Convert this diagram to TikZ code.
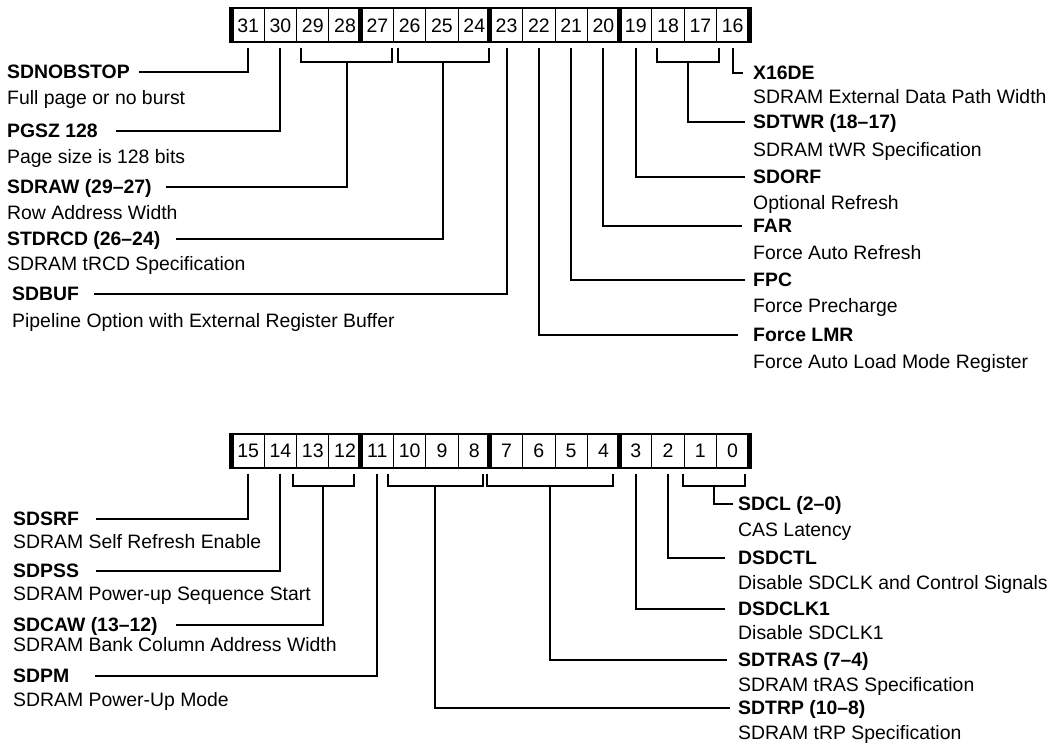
\documentclass[tikz,border=0pt]{standalone}
\usepackage{fontspec}
\setmainfont{Liberation Sans}
\usetikzlibrary{calc}

\begin{document}
\begin{tikzpicture}[x=1pt, y=-1pt]
    % --- STYLES ---
    \tikzset{
        cell/.style={draw, line width=1pt, minimum width=32.3pt, minimum height=33pt, inner sep=0pt, font={\fontsize{19.5}{21}\selectfont}},
        frame_line/.style={line width=2pt},
        nibble_bar/.style={line width=5pt},
        lead/.style={line width=2pt},
        field/.style={anchor=west, inner sep=0pt, text height=13.9pt, text depth=0pt, font={\fontsize{19.4}{23}\selectfont\bfseries}},
        descr/.style={anchor=west, inner sep=0pt, text height=13.9pt, text depth=0pt, font={\fontsize{19.4}{23}\selectfont}}
    }
    \useasboundingbox (0,0) rectangle (1059,743);

    % left edge of the registers
    \def\xo{232}
    % cell pitch
    \def\pw{32.3}

    % ===================================================
    % 1. UPPER REGISTER (bits 31-16)
    % ===================================================
    \foreach \b [count=\i from 0] in {31,30,...,16} {
        \node[cell] (r\b) at ({\xo+(\i+0.5)*\pw}, 25.5) {\b};
    }
    \draw[frame_line] (r31.north west) -- (r16.north east);
    \draw[frame_line] (r31.south west) -- (r16.south east);
    \foreach \b in {31,27,23,19} {
        \draw[nibble_bar] ([yshift=1pt]r\b.north west) -- ([yshift=-1pt]r\b.south west);
    }
    \draw[nibble_bar] ([yshift=1pt]r16.north east) -- ([yshift=-1pt]r16.south east);

    % fields on the left
    \node[field] (nobstop) at (7,72) {SDNOBSTOP};
    \node[descr] (nobstopd) at (7,98) {Full page or no burst};
    \node[field] (pgsz) at (7,131) {PGSZ 128};
    \node[descr] (pgszd) at (7,157) {Page size is 128 bits};
    \node[field] (sdraw) at (7,187) {SDRAW (29–27)};
    \node[descr] (sdrawd) at (7,213) {Row Address Width};
    \node[field] (stdrcd) at (7,239) {STDRCD (26–24)};
    \node[descr] (stdrcdd) at (7,264) {SDRAM tRCD Specification};
    \node[field] (sdbuf) at (12,294) {SDBUF};
    \node[descr] (sdbufd) at (12,321) {Pipeline Option with External Register Buffer};

    % fields on the right
    \node[field] (x16de) at (753,73) {X16DE};
    \node[descr] (x16ded) at (753,97) {SDRAM External Data Path Width};
    \node[field] (sdtwr) at (753,122) {SDTWR (18–17)};
    \node[descr] (sdtwrd) at (753,150) {SDRAM tWR Specification};
    \node[field] (sdorf) at (753,177) {SDORF};
    \node[descr] (sdorfd) at (753,203) {Optional Refresh};
    \node[field] (far) at (753,226) {FAR};
    \node[descr] (fard) at (753,253) {Force Auto Refresh};
    \node[field] (fpc) at (753,280) {FPC};
    \node[descr] (fpcd) at (753,306) {Force Precharge};
    \node[field] (flmr) at (753,335) {Force LMR};
    \node[descr] (flmrd) at (753,362) {Force Auto Load Mode Register};

    % leaders
    \draw[lead] ([yshift=-6pt]r31.south) |- ($(nobstop.east)+(9,0)$);
    \draw[lead] ([yshift=-6pt]r30.south) |- ($(pgsz.east)+(18,0)$);
    \draw[lead] ([xshift=5pt,yshift=-6pt]r29.south west) -- ++(0,14) -| ([xshift=-2pt,yshift=-6pt]r27.south east);
    \draw[lead] ($(r29.south west)!0.5!(r27.south east)+(1.5,20)$) |- ($(sdraw.east)+(14,0)$);
    \draw[lead] ([xshift=5pt,yshift=-6pt]r26.south west) -- ++(0,14) -| ([xshift=-2pt,yshift=-6pt]r24.south east);
    \draw[lead] ($(r26.south west)!0.5!(r24.south east)+(1.5,20)$) |- ($(stdrcd.east)+(16,0)$);
    \draw[lead] ([yshift=-6pt]r23.south) |- ($(sdbuf.east)+(15,0)$);
    \draw[lead] ([yshift=-6pt]r22.south) |- ($(flmr.west)+(-15,0)$);
    \draw[lead] ([yshift=-6pt]r21.south) |- ($(fpc.west)+(-8,0)$);
    \draw[lead] ([yshift=-6pt]r20.south) |- ($(far.west)+(-11,0)$);
    \draw[lead] ([yshift=-6pt]r19.south) |- ($(sdorf.west)+(-8,0)$);
    \draw[lead] ([xshift=6pt,yshift=-6pt]r18.south west) -- ++(0,14) -| ([xshift=2pt,yshift=-6pt]r17.south east);
    \draw[lead] ($(r18.south west)!0.5!(r17.south east)+(4,20)$) |- ($(sdtwr.west)+(-8,0)$);
    \draw[lead] ([yshift=-6pt]r16.south) |- ($(x16de.west)+(-10,0)$);

    % ===================================================
    % 2. LOWER REGISTER (bits 15-0)
    % ===================================================
    \foreach \b [count=\i from 0] in {15,14,...,0} {
        \node[cell] (r\b) at ({\xo+(\i+0.5)*\pw}, 450.5) {\b};
    }
    \draw[frame_line] (r15.north west) -- (r0.north east);
    \draw[frame_line] (r15.south west) -- (r0.south east);
    \foreach \b in {15,11,7,3} {
        \draw[nibble_bar] ([yshift=1pt]r\b.north west) -- ([yshift=-1pt]r\b.south west);
    }
    \draw[nibble_bar] ([yshift=1pt]r0.north east) -- ([yshift=-1pt]r0.south east);

    % fields on the left
    \node[field] (sdsrf) at (13,519) {SDSRF};
    \node[descr] (sdsrfd) at (13,542) {SDRAM Self Refresh Enable};
    \node[field] (sdpss) at (13,571) {SDPSS};
    \node[descr] (sdpssd) at (13,594) {SDRAM Power-up Sequence Start};
    \node[field] (sdcaw) at (13,625) {SDCAW (13–12)};
    \node[descr] (sdcawd) at (13,645) {SDRAM Bank Column Address Width};
    \node[field] (sdpm) at (13,676) {SDPM};
    \node[descr] (sdpmd) at (13,700) {SDRAM Power-Up Mode};

    % fields on the right
    \node[field] (sdcl) at (738,504) {SDCL (2–0)};
    \node[descr] (sdcld) at (738,530) {CAS Latency};
    \node[field] (dsdctl) at (738,558) {DSDCTL};
    \node[descr] (dsdctld) at (738,583) {Disable SDCLK and Control Signals};
    \node[field] (dsdclk) at (738,609) {DSDCLK1};
    \node[descr] (dsdclkd) at (738,633) {Disable SDCLK1};
    \node[field] (sdtras) at (738,660) {SDTRAS (7–4)};
    \node[descr] (sdtrasd) at (738,685) {SDRAM tRAS Specification};
    \node[field] (sdtrp) at (738,708) {SDTRP (10–8)};
    \node[descr] (sdtrpd) at (738,733) {SDRAM tRP Specification};

    % leaders
    \draw[lead] ([yshift=-6pt]r15.south) |- ($(sdsrf.east)+(17,0)$);
    \draw[lead] ([yshift=-6pt]r14.south) |- ($(sdpss.east)+(17,0)$);
    \draw[lead] ([xshift=-3pt,yshift=-6pt]r13.south west) -- ++(0,12) -| ([xshift=-8pt,yshift=-6pt]r12.south east);
    \draw[lead] ($(r13.south west)!0.5!(r12.south east)+(-5.5,18)$) |- ($(sdcaw.east)+(18,0)$);
    \draw[lead] ([yshift=-6pt]r11.south) |- ($(sdpm.east)+(26,0)$);
    \draw[lead] ([xshift=-5pt,yshift=-6pt]r10.south west) -- ++(0,12) -| ([xshift=-8pt,yshift=-6pt]r8.south east);
    \draw[lead] ($(r10.south west)!0.5!(r8.south east)+(-6.5,18)$) |- ($(sdtrp.west)+(-8,0)$);
    \draw[lead] ([xshift=-3pt,yshift=-6pt]r7.south west) -- ++(0,12) -| ([xshift=-7pt,yshift=-6pt]r4.south east);
    \draw[lead] ($(r7.south west)!0.5!(r4.south east)+(-5,18)$) |- ($(sdtras.west)+(-11,0)$);
    \draw[lead] ([yshift=-6pt]r3.south) |- ($(dsdclk.west)+(-13,0)$);
    \draw[lead] ([yshift=-6pt]r2.south) |- ($(dsdctl.west)+(-13,0)$);
    \draw[lead] ([xshift=-1pt,yshift=-6pt]r1.south west) -- ++(0,12) -| ([xshift=-4pt,yshift=-6pt]r0.south east);
    \draw[lead] ($(r1.south west)!0.5!(r0.south east)+(-2.5,18)$) |- ($(sdcl.west)+(-5,0)$);

\end{tikzpicture}
\end{document}
